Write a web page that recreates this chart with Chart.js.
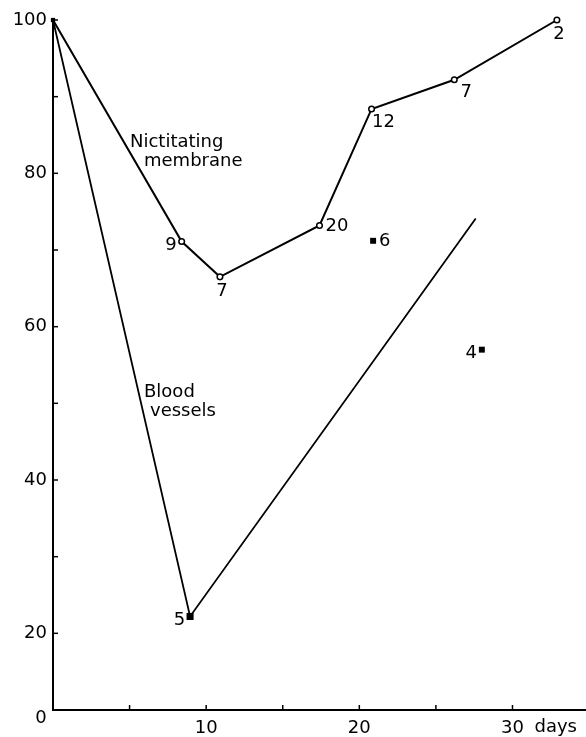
<!DOCTYPE html>
<html>
<head>
<meta charset="utf-8">
<script src="https://cdn.jsdelivr.net/npm/chart.js@4/dist/chart.umd.min.js"></script>
<style>
  html, body { margin: 0; padding: 0; background: #fff; }
  #wrap { width: 586px; height: 737px; }
</style>
</head>
<body>
<div id="wrap"><canvas id="recovery"></canvas></div>
<script>
// days after operation vs. response (% of normal)
var membraneDays = [0, 8.4, 10.9, 17.4, 20.8, 26.2, 32.9];
var membraneValues = [100, 71.1, 66.5, 73.2, 88.4, 92.2, 100];
var membraneCounts = ["", "9", "7", "20", "12", "7", "2"];

var vesselDays = [0, 8.95, 27.6];
var vesselValues = [100, 22.2, 74.1];
var vesselCounts = ["", "5", ""];

var extraDays = [20.9, 28.0];
var extraValues = [71.2, 57.0];
var extraCounts = ["6", "4"];

var yTickLabels = [20, 40, 60, 80, 100];
var xTickLabels = [10, 20, 30];

// where each count number sits relative to its point
var membranePlace = ["", "left", "below", "right", "belowRight", "belowRight", "below"];
var vesselPlace = ["", "left", ""];
var extraPlace = ["right", "left"];

var FONT = "DejaVu Sans";

function pts(xs, ys) {
  return xs.map(function (x, i) { return { x: x, y: ys[i] }; });
}

var annotate = {
  id: "annotate",
  afterDatasetsDraw: function (chart) {
    var ctx = chart.ctx;
    var xs = chart.scales.x, ys = chart.scales.y;
    var area = chart.chartArea;
    ctx.save();
    ctx.strokeStyle = "#000";
    ctx.lineWidth = 1.5;
    // inward tick marks
    for (var v = 10; v <= 100; v += 10) {
      var py = ys.getPixelForValue(v);
      ctx.beginPath(); ctx.moveTo(area.left, py); ctx.lineTo(area.left + 5, py); ctx.stroke();
    }
    for (var d = 5; d <= 30; d += 5) {
      var px = xs.getPixelForValue(d);
      ctx.beginPath(); ctx.moveTo(px, area.bottom); ctx.lineTo(px, area.bottom - 5); ctx.stroke();
    }

    ctx.fillStyle = "#000";
    ctx.font = "18px '" + FONT + "'";
    ctx.textBaseline = "middle";

    // origin and unit
    ctx.textAlign = "center";
    ctx.fillText("0", area.left - 12, area.bottom + 8);
    ctx.textAlign = "left";
    ctx.fillText("days", xs.getPixelForValue(30) + 22, area.bottom + 17);

    // count labels beside the points
    function label(xArr, yArr, txt, place) {
      for (var i = 0; i < txt.length; i++) {
        if (!txt[i]) continue;
        var x = xs.getPixelForValue(xArr[i]);
        var y = ys.getPixelForValue(yArr[i]);
        var p = place[i];
        if (p === "left") { ctx.textAlign = "right"; ctx.fillText(txt[i], x - 5, y + 4); }
        else if (p === "right") { ctx.textAlign = "left"; ctx.fillText(txt[i], x + 6, y + 1); }
        else if (p === "below") { ctx.textAlign = "center"; ctx.fillText(txt[i], x + 2, y + 14); }
        else if (p === "belowRight") { ctx.textAlign = "center"; ctx.fillText(txt[i], x + 12, y + 13); }
      }
    }
    label(membraneDays, membraneValues, membraneCounts, membranePlace);
    label(vesselDays, vesselValues, vesselCounts, vesselPlace);
    label(extraDays, extraValues, extraCounts, extraPlace);

    // series names
    ctx.textAlign = "left";
    ctx.fillText("Nictitating", 130, 142);
    ctx.fillText("membrane", 144, 161);
    ctx.fillText("Blood", 144, 392);
    ctx.fillText("vessels", 150, 411);
    ctx.restore();
  }
};

new Chart(document.getElementById("recovery"), {
  type: "scatter",
  data: {
    datasets: [
      {
        label: "Nictitating membrane",
        data: pts(membraneDays, membraneValues),
        showLine: true,
        clip: false,
        borderColor: "#000",
        borderWidth: 2,
        pointRadius: [0, 2.8, 2.8, 2.8, 2.8, 2.8, 2.8],
        pointBackgroundColor: "#fff",
        pointBorderColor: "#000",
        pointBorderWidth: 1.5,
      },
      {
        label: "Blood vessels",
        data: pts(vesselDays, vesselValues),
        showLine: true,
        clip: false,
        borderColor: "#000",
        borderWidth: 1.8,
        pointStyle: "rect",
        pointRadius: [3, 5, 0],
        pointBackgroundColor: "#000",
        pointBorderColor: "#000",
        pointBorderWidth: 0,
      },
      {
        label: "Blood vessels (single)",
        data: pts(extraDays, extraValues),
        showLine: false,
        clip: false,
        pointStyle: "rect",
        pointRadius: 4.2,
        pointBackgroundColor: "#000",
        pointBorderColor: "#000",
        pointBorderWidth: 0,
      },
    ],
  },
  options: {
    responsive: true,
    maintainAspectRatio: false,
    animation: false,
    layout: { autoPadding: false, padding: { top: 20, right: 0, left: 0, bottom: 0 } },
    plugins: { legend: { display: false }, tooltip: { enabled: false } },
    scales: {
      x: {
        type: "linear",
        min: 0,
        max: 34.8,
        afterFit: function (s) { s.height = 27; },
        grid: { display: false, drawTicks: false },
        border: { display: true, color: "#000", width: 2 },
        ticks: {
          stepSize: 10,
          includeBounds: false,
          padding: 8,
          color: "#000",
          font: { family: FONT, size: 18 },
          callback: function (v) { return xTickLabels.indexOf(v) >= 0 ? String(v) : ""; },
        },
      },
      y: {
        min: 10,
        max: 100,
        afterFit: function (s) { s.width = 53; },
        grid: { display: false, drawTicks: false },
        border: { display: true, color: "#000", width: 2 },
        ticks: {
          stepSize: 10,
          padding: 6,
          color: "#000",
          font: { family: FONT, size: 18 },
          callback: function (v) { return yTickLabels.indexOf(v) >= 0 ? String(v) : ""; },
        },
      },
    },
  },
  plugins: [annotate],
});
</script>
</body>
</html>
